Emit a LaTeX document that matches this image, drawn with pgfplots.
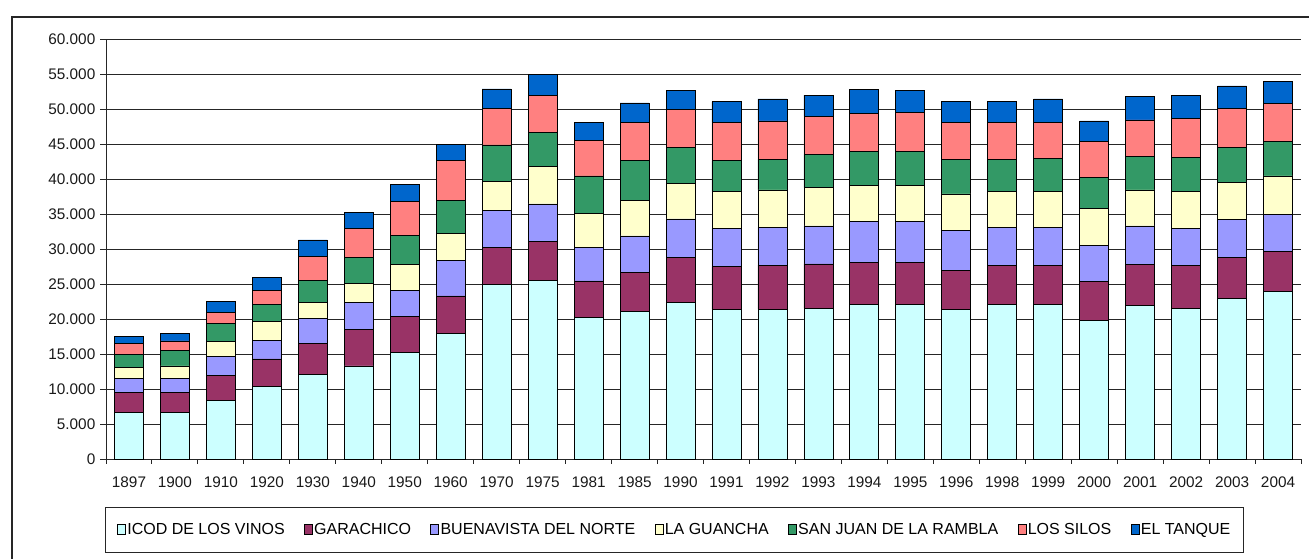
\documentclass[border=0pt]{standalone}
\usepackage{fontspec}
\setmainfont{Liberation Sans}
\usepackage{pgfplots}
\usepackage{pgfplotstable}
\pgfplotsset{compat=1.18}

\definecolor{cIcod}{HTML}{CCFFFF}
\definecolor{cGar}{HTML}{993366}
\definecolor{cBue}{HTML}{9999FF}
\definecolor{cGua}{HTML}{FFFFCC}
\definecolor{cSjr}{HTML}{339966}
\definecolor{cSil}{HTML}{FF8080}
\definecolor{cTan}{HTML}{0066CC}

\pgfplotstableread{
idx year icod gar bue gua sjr sil tan
0  1897 6670  2860 2000 1570 1860 1610 1000
1  1900 6670  2860 2000 1760 2180 1390 1140
2  1910 8380  3620 2620 2140 2620 1570 1570
3  1920 10380 3910 2710 2620 2480 2000 1900
4  1930 12050 4470 3620 2190 3240 3430 2290
5  1940 13290 5190 3850 2770 3660 4140 2290
6  1950 15190 5140 3810 3620 4240 4760 2430
7  1960 17900 5390 5040 3910 4760 5600 2350
8  1970 24950 5290 5230 4150 5240 5240 2760
9  1975 25570 5570 5290 5330 4860 5280 3100
10 1981 20240 5190 4810 4860 5330 5090 2620
11 1985 21050 5620 5190 5140 5600 5500 2760
12 1990 22330 6430 5530 5090 5100 5520 2710
13 1991 21380 6100 5470 5240 4410 5450 3000
14 1992 21380 6330 5390 5330 4380 5480 3140
15 1993 21520 6340 5430 5470 4760 5480 3000
16 1994 22140 5910 5850 5240 4760 5480 3430
17 1995 22140 5960 5800 5240 4760 5580 3230
18 1996 21380 5520 5810 5150 4950 5240 3090
19 1998 22140 5530 5380 5140 4620 5240 3090
20 1999 22140 5530 5380 5140 4760 5100 3380
21 2000 19760 5620 5100 5330 4430 5090 2960
22 2001 21950 5860 5480 5140 4760 5240 3330
23 2002 21520 6150 5230 5290 4910 5520 3330
24 2003 22950 5810 5480 5280 4960 5620 3190
25 2004 23900 5720 5330 5480 4900 5480 3090
}\datatable

\begin{document}
\begin{tikzpicture}
\useasboundingbox (0pt,0pt) rectangle (981.75pt,-419.25pt);
\draw[line width=0.8pt, black!85] (9pt,-700pt) -- (9pt,-12.75pt) -- (1100pt,-12.75pt);
\begin{axis}[
  at={(79.5pt,-344.25pt)}, anchor=south west,
  scale only axis,
  width=896.25pt, height=315pt,
  ybar stacked,
  bar width=21.75pt,
  xmin=-0.5, xmax=25.5,
  ymin=0, ymax=60000,
  enlargelimits=false,
  axis lines*=left,
  axis line style={line width=0.7pt, black!85},
  ytick distance=5000,
  scaled y ticks=false,
  yticklabel style={/pgf/number format/.cd, 1000 sep={.}, assume math mode=true},
  ymajorgrids,
  grid style={line width=0.7pt, black!85},
  xtick={0,...,25},
  xticklabels={1897,1900,1910,1920,1930,1940,1950,1960,1970,1975,1981,1985,1990,1991,1992,1993,1994,1995,1996,1998,1999,2000,2001,2002,2003,2004},
  minor xtick={-0.5,0.5,...,25.5},
  major x tick style={draw=none},
  minor tick length=3.5pt,
  major tick length=4.5pt,
  tick align=outside,
  tick style={line width=0.7pt, black!85},
  tick label style={font=\fontsize{11.5}{13}\selectfont, text=black!90},
  xticklabel style={yshift=-5pt},
  legend columns=7,
  legend style={
    at={(0.4757,-0.168)}, anchor=center,
    draw=black!85, line width=0.7pt,
    font=\fontsize{12}{14}\selectfont,
    inner xsep=9pt, inner ysep=10pt,
    nodes={inner xsep=1pt},
    /tikz/every even column/.append style={column sep=13.5pt},
  },
  legend image code/.code={\draw[#1, line width=0.6pt] (0pt,-3.5pt) rectangle (6pt,4pt);},
  every axis plot/.append style={draw=black, line width=0.6pt},
]
\addplot[fill=cIcod] table[x=idx, y=icod]{\datatable};
\addplot[fill=cGar] table[x=idx, y=gar]{\datatable};
\addplot[fill=cBue] table[x=idx, y=bue]{\datatable};
\addplot[fill=cGua] table[x=idx, y=gua]{\datatable};
\addplot[fill=cSjr] table[x=idx, y=sjr]{\datatable};
\addplot[fill=cSil] table[x=idx, y=sil]{\datatable};
\addplot[fill=cTan] table[x=idx, y=tan]{\datatable};
\legend{ICOD DE LOS VINOS, GARACHICO, BUENAVISTA DEL NORTE, LA GUANCHA, SAN JUAN DE LA RAMBLA, LOS SILOS, EL TANQUE}
\end{axis}
\end{tikzpicture}
\end{document}
